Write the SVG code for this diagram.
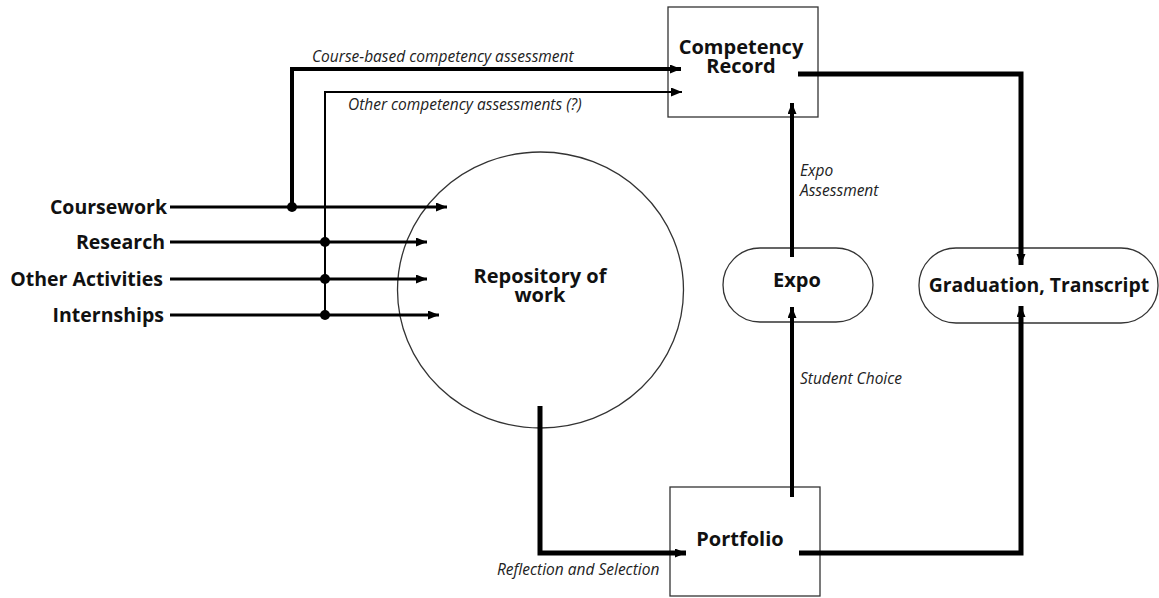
<svg xmlns="http://www.w3.org/2000/svg" width="1159" height="598" viewBox="0 0 1159 598">
<style>
.node{fill:#fff;stroke:#333;stroke-width:1.3}
.t{font-family:"Open Sans","Liberation Sans",sans-serif;font-weight:bold;fill:#111;text-anchor:middle;font-size:20px}
.l{font-family:"Open Sans","Liberation Sans",sans-serif;font-style:italic;fill:#222;font-size:15.5px}
.in{font-family:"Open Sans","Liberation Sans",sans-serif;font-weight:bold;fill:#111;font-size:19.5px;text-anchor:end}
.c{fill:none;stroke:#000}
</style>
<defs>
<marker id="ah" markerUnits="userSpaceOnUse" markerWidth="12" markerHeight="10" refX="11" refY="4.5" orient="auto">
<path d="M0,0 L11,4.5 L0,9 Z" fill="#000"/>
</marker>
</defs>
<g id="repository">
<ellipse class="node" cx="540.5" cy="290" rx="143" ry="138"/>
<text class="t" x="540" y="283">Repository of</text>
<text class="t" x="540" y="302">work</text>
</g>
<g id="competency-record">
<rect class="node" x="668" y="7" width="150" height="110"/>
<text class="t" x="741" y="54">Competency</text>
<text class="t" x="741" y="73">Record</text>
</g>
<g id="expo">
<rect class="node" x="723" y="248" width="150" height="74" rx="37"/>
<text class="t" x="797" y="287">Expo</text>
</g>
<g id="graduation">
<rect class="node" x="919" y="248" width="239" height="75" rx="37"/>
<text class="t" x="1039" y="292" style="font-size:19.4px">Graduation, Transcript</text>
</g>
<g id="portfolio">
<rect class="node" x="670" y="487" width="150" height="109"/>
<text class="t" x="740" y="546">Portfolio</text>
</g>
<g id="inputs">
<text class="in" x="167" y="214">Coursework</text>
<text class="in" x="165" y="249">Research</text>
<text class="in" x="163" y="286">Other Activities</text>
<text class="in" x="164" y="322">Internships</text>
</g>
<g id="connectors">
<line class="c" stroke-width="3" x1="170" y1="207" x2="447" y2="207" marker-end="url(#ah)"/>
<line class="c" stroke-width="3" x1="170" y1="242" x2="427" y2="242" marker-end="url(#ah)"/>
<line class="c" stroke-width="3" x1="170" y1="279" x2="427" y2="279" marker-end="url(#ah)"/>
<line class="c" stroke-width="3" x1="170" y1="315" x2="439" y2="315" marker-end="url(#ah)"/>
<polyline class="c" stroke-width="4" points="292,207 292,69 681,69" marker-end="url(#ah)"/>
<polyline class="c" stroke-width="2" points="325,315 325,92 682,92" marker-end="url(#ah)"/>
<circle cx="292" cy="207" r="5" fill="#000"/>
<circle cx="325" cy="242" r="5" fill="#000"/>
<circle cx="325" cy="279" r="5" fill="#000"/>
<circle cx="325" cy="315" r="5" fill="#000"/>
<polyline class="c" stroke-width="5" points="798,74 1021,74 1021,265" marker-end="url(#ah)"/>
<line class="c" stroke-width="4" x1="792" y1="257" x2="792" y2="103" marker-end="url(#ah)"/>
<line class="c" stroke-width="4" x1="792" y1="497" x2="792" y2="307" marker-end="url(#ah)"/>
<polyline class="c" stroke-width="5" points="540,406 540,553 686,553" marker-end="url(#ah)"/>
<polyline class="c" stroke-width="5" points="799,553 1021,553 1021,306" marker-end="url(#ah)"/>
<text class="l" x="312" y="62">Course-based competency assessment</text>
<text class="l" x="348" y="110">Other competency assessments (?)</text>
<text class="l" x="800" y="176">Expo</text>
<text class="l" x="800" y="196">Assessment</text>
<text class="l" x="800" y="384">Student Choice</text>
<text class="l" x="497" y="575">Reflection and Selection</text>
</g>
</svg>
